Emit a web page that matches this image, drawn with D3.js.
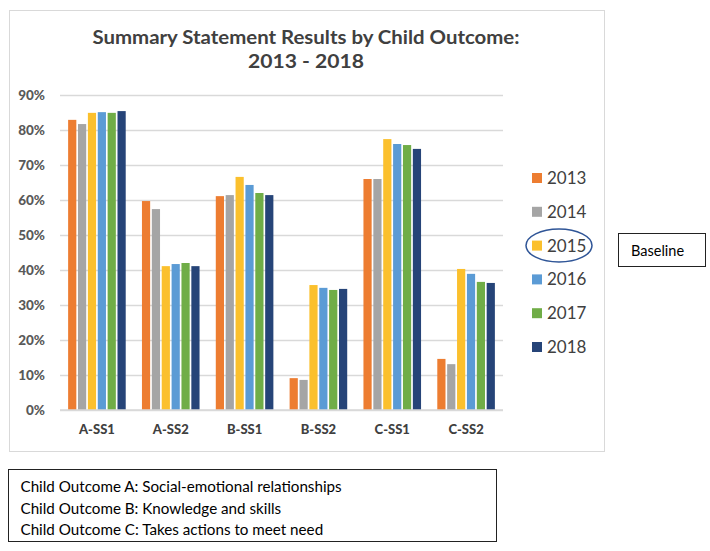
<!DOCTYPE html>
<html><head><meta charset="utf-8">
<script src="https://cdn.jsdelivr.net/npm/d3@7"></script>
<style>body{margin:0;background:#fff;} svg{display:block;}</style>
</head><body>
<svg id="c" width="710" height="551"></svg>
<script>
const categories = ["A-SS1","A-SS2","B-SS1","B-SS2","C-SS1","C-SS2"];
const years = ["2013","2014","2015","2016","2017","2018"];
const v2013 = [82.9, 59.7, 61.1, 9.1, 66.0, 14.6];
const v2014 = [81.7, 57.4, 61.4, 8.6, 66.0, 13.1];
const v2015 = [84.9, 41.1, 66.6, 35.7, 77.4, 40.3];
const v2016 = [85.1, 41.7, 64.3, 34.9, 76.0, 38.9];
const v2017 = [84.9, 42.0, 62.0, 34.3, 75.7, 36.6];
const v2018 = [85.4, 41.1, 61.4, 34.6, 74.6, 36.3];
const yTicks = [0,10,20,30,40,50,60,70,80,90];
const colors = ["#ED7D31","#A5A5A5","#FBC02D","#5B9BD5","#70AD47","#264478"];
const titleLines = ["Summary Statement Results by Child Outcome:","2013 - 2018"];
const noteLines = ["Child Outcome A: Social-emotional relationships","Child Outcome B: Knowledge and skills","Child Outcome C: Takes actions to meet need"];
const series = [v2013,v2014,v2015,v2016,v2017,v2018];

const svg = d3.select("#c");
const font = "Lato, 'Open Sans', sans-serif";

// chart frame
svg.append("rect").attr("x",9.5).attr("y",10.5).attr("width",595).attr("height",441)
  .attr("fill","#fff").attr("stroke","#d9d9d9").attr("stroke-width",1);

// title
svg.selectAll("text.title").data(titleLines).join("text").attr("class","title")
  .attr("x",306).attr("y",(d,i)=>44+i*24).attr("text-anchor","middle")
  .attr("font-family",font).attr("font-weight","bold").attr("font-size",18)
  .attr("fill","#404040").text(d=>d)
  .attr("textLength",(d,i)=> i===0?427:116).attr("lengthAdjust","spacingAndGlyphs");

const y = d3.scaleLinear().domain([0,90]).range([410,95]);
const x0 = d3.scaleBand().domain(categories).range([60,503]).paddingInner(0.22).paddingOuter(0.11);
const x1 = d3.scaleBand().domain(years).range([0,x0.bandwidth()]).paddingInner(0.17).paddingOuter(0);

// gridlines
const yAxis = d3.axisLeft(y).tickValues(yTicks).tickFormat(d=>d+"%").tickSize(-(503-60)).tickPadding(15);
const ga = svg.append("g").attr("transform","translate(60,0)").call(yAxis);
ga.select(".domain").remove();
ga.selectAll(".tick line").attr("stroke","#d9d9d9").attr("stroke-width",1.5);
ga.selectAll(".tick text").attr("font-family",font).attr("font-weight","900").attr("font-size",13.5).attr("fill","#595959");

// bars
const groups = svg.append("g").selectAll("g").data(categories).join("g")
  .attr("transform",d=>`translate(${x0(d)},0)`);
groups.selectAll("rect").data((c,ci)=>years.map((yr,yi)=>({yr,yi,v:series[yi][ci]}))).join("rect")
  .attr("x",d=>x1(d.yr)).attr("width",x1.bandwidth())
  .attr("y",d=>y(d.v)).attr("height",d=>y(0)-y(d.v)).attr("fill",d=>colors[d.yi]);

// baseline axis
svg.append("line").attr("x1",60).attr("x2",503).attr("y1",y(0)).attr("y2",y(0)).attr("stroke","#d9d9d9").attr("stroke-width",1.5);

// x axis labels
const xAxis = d3.axisBottom(x0).tickSize(0).tickPadding(15);
const gx = svg.append("g").attr("transform",`translate(0,${y(0)})`).call(xAxis);
gx.select(".domain").remove();
gx.selectAll(".tick text").attr("font-family",font).attr("font-weight","900").attr("font-size",13).attr("fill","#404040");

// legend
const lg = svg.append("g").selectAll("g").data(years).join("g")
  .attr("transform",(d,i)=>`translate(532,${178+i*33.8})`);
lg.append("rect").attr("x",0).attr("y",-5).attr("width",10).attr("height",10).attr("fill",(d,i)=>colors[i]);
lg.append("text").attr("x",15).attr("y",6).attr("font-family",font).attr("font-size",17).attr("fill","#404040").text(d=>d);

// ellipse around 2015
svg.append("ellipse").attr("cx",559).attr("cy",245.5).attr("rx",33).attr("ry",16.5)
  .attr("fill","none").attr("stroke","#2F5597").attr("stroke-width",1.5);

// Baseline box
svg.append("rect").attr("x",618.5).attr("y",233.5).attr("width",87).attr("height",33)
  .attr("fill","#fff").attr("stroke","#222").attr("stroke-width",1);
svg.append("text").attr("x",631).attr("y",256).attr("font-family",font).attr("font-size",14.5).attr("fill","#000").text("Baseline");

// note box
svg.append("rect").attr("x",8.5).attr("y",469.5).attr("width",488).attr("height",72)
  .attr("fill","#fff").attr("stroke","#222").attr("stroke-width",1);
svg.selectAll("text.note").data(noteLines).join("text").attr("class","note")
  .attr("x",20.5).attr("y",(d,i)=>492+i*21.7).attr("font-family",font).attr("font-size",15.2).attr("fill","#000").text(d=>d);
</script>
</body></html>
